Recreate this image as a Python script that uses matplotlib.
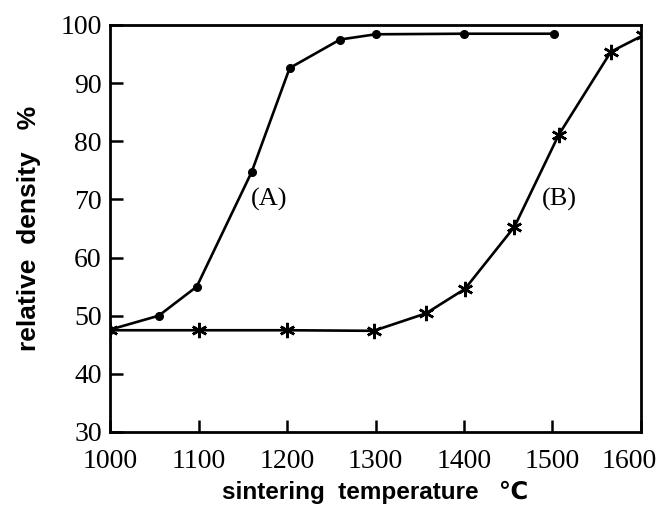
import matplotlib.pyplot as plt
from matplotlib.transforms import ScaledTranslation

# sintering curves
temp_a = [1000, 1055, 1098, 1160, 1203, 1260, 1300, 1400, 1502]
dens_a = [47.6, 50.0, 55.0, 74.7, 92.6, 97.5, 98.4, 98.5, 98.5]

temp_b = [1000, 1100, 1200, 1298, 1357, 1401, 1457, 1507, 1566, 1602]
dens_b = [47.5, 47.5, 47.5, 47.4, 50.4, 54.6, 65.3, 81.1, 95.4, 98.2]

x_ticks = [1000, 1100, 1200, 1300, 1400, 1500, 1600]
y_ticks = [30, 40, 50, 60, 70, 80, 90, 100]

plt.rcParams['font.family'] = ['Liberation Serif', 'DejaVu Serif']

fig = plt.figure(figsize=(6.6, 5.24), dpi=100)
ax = fig.add_axes([0.1667, 0.1756, 0.8045, 0.7767])

ax.plot(temp_a, dens_a, color='black', lw=1.9, marker='o', ms=5.5)
ax.plot(temp_b, dens_b, color='black', lw=1.9, marker=(6, 2, 0), ms=11, mew=1.8)

ax.text(1180, 70, "(A)", fontsize=19, ha='center', va='center')
ax.text(1508, 70, "(B)", fontsize=19, ha='center', va='center')

ax.set_xlim(1000, 1600)
ax.set_ylim(30, 100)
ax.set_xticks(x_ticks)
ax.set_yticks(y_ticks)
ax.tick_params(direction='in', length=9, width=1.8, labelsize=20, pad=6)
ax.tick_params(axis='x', pad=12)
for s in ax.spines.values():
    s.set_linewidth(2)

# last x label sits a little left of its tick in the reference
last = ax.get_xticklabels()[-1]
last.set_transform(last.get_transform() + ScaledTranslation(-0.12, 0, fig.dpi_scale_trans))

sans = ['Liberation Sans', 'DejaVu Sans']
ax.set_xlabel("sintering  temperature   \u2103", fontsize=17.5, fontweight='bold',
              family=sans, labelpad=5)
ax.set_ylabel("relative  density   %", fontsize=19, fontweight='bold',
              family=sans, labelpad=14)

fig.savefig("out.png", dpi=100)
